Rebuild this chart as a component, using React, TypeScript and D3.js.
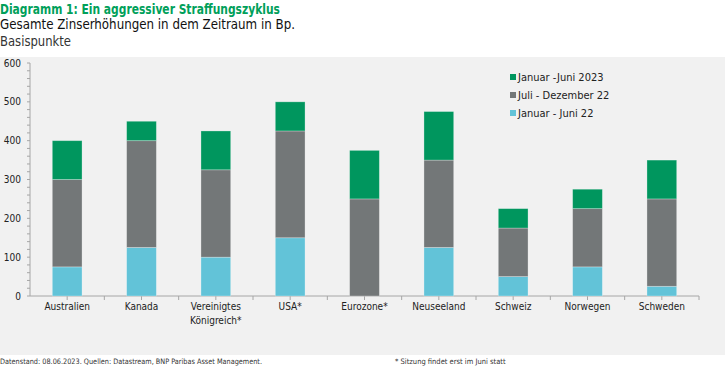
import React, { useEffect, useRef } from "react";
import * as d3 from "d3";

// Data: rate hikes in basis points per period
const countries = [
  "Australien",
  "Kanada",
  "Vereinigtes|Königreich*",
  "USA*",
  "Eurozone*",
  "Neuseeland",
  "Schweiz",
  "Norwegen",
  "Schweden",
];
const janJun22 = [75, 125, 100, 150, 0, 125, 50, 75, 25];
const julDec22 = [225, 275, 225, 275, 250, 225, 125, 150, 225];
const janJun23 = [100, 50, 100, 75, 125, 125, 50, 50, 100];

const seriesKeys = ["janJun22", "julDec22", "janJun23"];
const seriesNames = ["Januar - Juni 22", "Juli - Dezember 22", "Januar -Juni 2023"];
const seriesColors = ["#62c3d8", "#737778", "#00965e"];
const yTicks = [0, 100, 200, 300, 400, 500, 600];

const FONT = "'DejaVu Sans Condensed', 'Liberation Sans Narrow', Roboto, sans-serif";

const App = () => {
  const ref = useRef<SVGSVGElement | null>(null);

  useEffect(() => {
    if (!ref.current) return;
    const svg = d3.select(ref.current);
    svg.selectAll("*").remove();

    const width = 725;
    const height = 367;

    // Title block
    svg.append("rect").attr("width", width).attr("height", height).attr("fill", "#fff");
    svg
      .append("text")
      .attr("x", 0)
      .attr("y", 14)
      .attr("fill", "#00a05a")
      .attr("font-size", 13.5)
      .attr("font-weight", "bold")
      .attr("font-family", FONT)
      .attr("textLength", 280)
      .attr("lengthAdjust", "spacingAndGlyphs")
      .text("Diagramm 1: Ein aggressiver Straffungszyklus");
    svg
      .append("text")
      .attr("x", 0)
      .attr("y", 29)
      .attr("fill", "#111")
      .attr("font-size", 14)
      .attr("font-family", FONT)
      .attr("textLength", 295)
      .attr("lengthAdjust", "spacingAndGlyphs")
      .text("Gesamte Zinserhöhungen in dem Zeitraum in Bp.");
    svg
      .append("text")
      .attr("x", 0)
      .attr("y", 46)
      .attr("fill", "#333")
      .attr("font-size", 13.5)
      .attr("font-family", FONT)
      .attr("textLength", 71)
      .attr("lengthAdjust", "spacingAndGlyphs")
      .text("Basispunkte");

    // Gray panel
    svg.append("rect").attr("x", 0).attr("y", 57).attr("width", width).attr("height", 298).attr("fill", "#f1f1f1");

    // Footer
    svg
      .append("text")
      .attr("x", 0)
      .attr("y", 364)
      .attr("fill", "#333")
      .attr("font-size", 7.5)
      .attr("font-family", FONT)
      .attr("textLength", 262)
      .attr("lengthAdjust", "spacingAndGlyphs")
      .text("Datenstand: 08.06.2023. Quellen: Datastream, BNP Paribas Asset Management.");
    svg
      .append("text")
      .attr("x", 395)
      .attr("y", 364)
      .attr("fill", "#333")
      .attr("font-size", 7.5)
      .attr("font-family", FONT)
      .text("* Sitzung findet erst im Juni statt");

    // Scales
    const x = d3.scaleBand().domain(countries).range([30, 699]).paddingInner(0.6).paddingOuter(0.3);
    const y = d3.scaleLinear().domain([0, 600]).range([296, 63]);

    const table = countries.map((c, i) => ({
      country: c,
      janJun22: janJun22[i],
      julDec22: julDec22[i],
      janJun23: janJun23[i],
    }));
    const stacked = d3.stack<any>().keys(seriesKeys)(table);

    // Axes
    const axisColor = "#a6a6a6";
    const g = svg.append("g").attr("font-family", FONT);
    g.append("line").attr("x1", 30).attr("x2", 30).attr("y1", y(600)).attr("y2", y(0)).attr("stroke", axisColor);
    d3.range(0, 601, 20).forEach((v) => {
      g.append("line")
        .attr("x1", 27)
        .attr("x2", 30)
        .attr("y1", y(v))
        .attr("y2", y(v))
        .attr("stroke", axisColor);
    });
    yTicks.forEach((v) => {
      g.append("text")
        .attr("x", 21)
        .attr("y", y(v) + 3.5)
        .attr("text-anchor", "end")
        .attr("font-size", 10)
        .attr("fill", "#222")
        .text(v);
    });
    g.append("line").attr("x1", 30).attr("x2", 699).attr("y1", y(0)).attr("y2", y(0)).attr("stroke", axisColor);
    const step = x.step();
    countries.forEach((c, i) => {
      const cx = (x(c) as number) + x.bandwidth() / 2;
      [cx, 30 + step * (i + 1)].forEach((tx) => {
        g.append("line")
          .attr("x1", tx)
          .attr("x2", tx)
          .attr("y1", y(0))
          .attr("y2", y(0) + 4)
          .attr("stroke", axisColor);
      });
      c.split("|").forEach((line, j) => {
        g.append("text")
          .attr("x", cx)
          .attr("y", 310 + j * 14)
          .attr("text-anchor", "middle")
          .attr("font-size", 10)
          .attr("font-weight", 500)
          .attr("fill", "#222")
          .text(line);
      });
    });

    // Bars
    stacked.forEach((layer, si) => {
      svg
        .append("g")
        .selectAll("rect")
        .data(layer)
        .enter()
        .append("rect")
        .attr("x", (d: any) => x(d.data.country) as number)
        .attr("y", (d) => y(d[1]))
        .attr("width", x.bandwidth())
        .attr("height", (d) => y(d[0]) - y(d[1]))
        .attr("fill", seriesColors[si])
        .attr("stroke", "rgba(255,255,255,0.35)")
        .attr("stroke-width", 0.8);
    });

    // Legend (reverse order, top is 2023)
    const legend = svg.append("g").attr("font-family", FONT);
    [2, 1, 0].forEach((si, row) => {
      const ly = 77 + row * 18;
      legend
        .append("rect")
        .attr("x", 510)
        .attr("y", ly - 3)
        .attr("width", 6)
        .attr("height", 6)
        .attr("fill", seriesColors[si]);
      legend
        .append("text")
        .attr("x", 518)
        .attr("y", ly + 4)
        .attr("font-size", 11)
        .attr("font-weight", 500)
        .attr("fill", "#222")
        .text(seriesNames[si]);
    });
  }, []);

  return <svg ref={ref} width={725} height={367} style={{ position: "absolute", left: 0, top: 0 }} />;
};

export default App;
